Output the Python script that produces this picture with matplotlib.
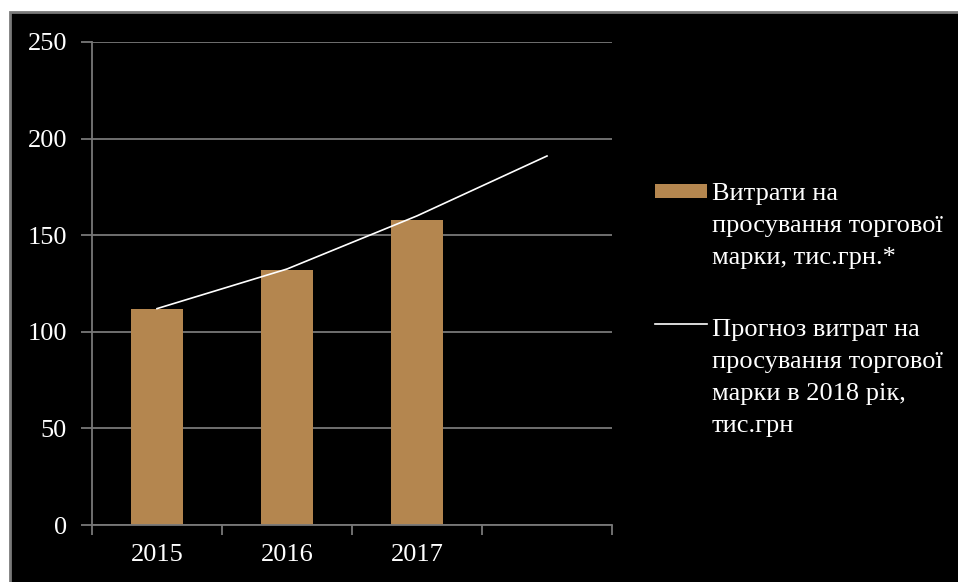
import numpy as np
import matplotlib.pyplot as plt
from matplotlib.patches import Rectangle
from matplotlib.lines import Line2D

plt.rcParams['font.family'] = ['Liberation Serif', 'DejaVu Serif']

# data
years = ['2015', '2016', '2017']
costs = [112, 132, 158]
forecast_x = [0, 1, 2, 3]
forecast = [112, 132.5, 160, 191]
legend_bar = ['Витрати на', 'просування торгової', 'марки, тис.грн.*']
legend_line = ['Прогноз витрат на', 'просування торгової', 'марки в 2018 рік,', 'тис.грн']

bar_color = '#b4864f'
grid_color = '#787878'
W, H = 958, 582

fig = plt.figure(figsize=(9.58, 5.82), dpi=100, facecolor='white')
# black background panel with grey border
fig.add_artist(Rectangle((10 / W, -0.01), 1.0, 1 - 12 / H + 0.01,
                         transform=fig.transFigure, facecolor='black',
                         edgecolor='#7a7a7a', linewidth=2, zorder=0))

ax = fig.add_axes([92 / W, 57 / H, 520 / W, 483 / H])
ax.set_zorder(2)
ax.patch.set_alpha(0)

ax.bar(range(len(years)), costs, width=0.4, color=bar_color, zorder=2)
ax.plot(forecast_x, forecast, color='white', linewidth=1.2, zorder=3)

ax.set_xlim(-0.5, 3.5)
ax.set_ylim(0, 250)
ax.set_yticks(np.arange(0, 251, 50))
ax.yaxis.grid(True, color=grid_color, linewidth=1.3, zorder=1)
ax.set_axisbelow(True)

ax.set_xticks(range(len(years)))
ax.set_xticklabels(years)
ax.set_xticks(np.arange(-0.5, 3.6, 1), minor=True)
ax.tick_params(axis='x', which='major', length=0, pad=14, labelsize=19, colors='white')
ax.tick_params(axis='x', which='minor', length=7, width=1.3, color=grid_color)
ax.tick_params(axis='y', length=8, width=1.3, color=grid_color, pad=10, labelsize=19, labelcolor='white')

for side in ['top', 'right']:
    ax.spines[side].set_visible(False)
for side in ['left', 'bottom']:
    ax.spines[side].set_color(grid_color)
    ax.spines[side].set_linewidth(1.3)

# legend drawn by hand: marker beside the first line of each label
fig.add_artist(Rectangle((655 / W, 1 - 198 / H), 52 / W, 14 / H,
                         transform=fig.transFigure, facecolor=bar_color,
                         edgecolor='none', zorder=3))
fig.add_artist(Line2D([655 / W, 707 / W], [1 - 324 / H, 1 - 324 / H],
                      transform=fig.transFigure, color='white', linewidth=1.2, zorder=3))
for i, line in enumerate(legend_bar):
    fig.text(712 / W, 1 - (200 + 32 * i) / H, line, color='white', fontsize=19,
             va='baseline', ha='left', zorder=4)
for i, line in enumerate(legend_line):
    fig.text(712 / W, 1 - (336 + 32 * i) / H, line, color='white', fontsize=19,
             va='baseline', ha='left', zorder=4)

fig.savefig('out.png', dpi=100, facecolor=fig.get_facecolor())
